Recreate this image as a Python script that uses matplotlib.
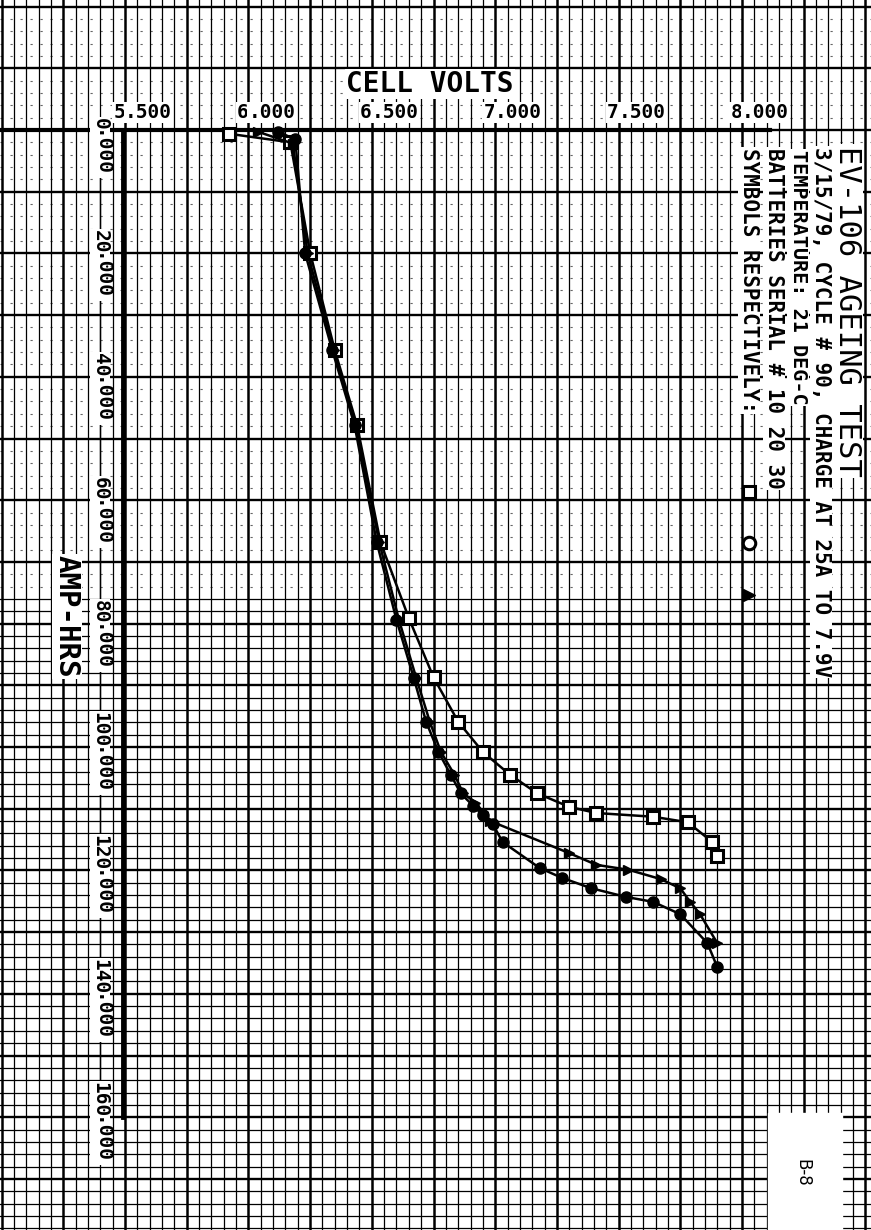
import matplotlib
matplotlib.use("Agg")
import matplotlib.pyplot as plt
import numpy as np

# ---------------- data ----------------
volt_ticks = [5.5, 6.0, 6.5, 7.0, 7.5, 8.0]
ah_ticks = [0, 20, 40, 60, 80, 100, 120, 140, 160]

sq_ah = [0.6, 2.0, 19.9, 35.7, 47.8, 66.8, 79.1, 88.7, 95.9, 100.8, 104.5, 107.5,
         109.7, 110.7, 111.3, 112.2, 115.4, 117.7]
sq_v = [5.92, 6.17, 6.25, 6.35, 6.44, 6.535, 6.65, 6.75, 6.85, 6.95, 7.06, 7.17,
        7.30, 7.41, 7.64, 7.78, 7.88, 7.90]

ci_ah = [0.3, 1.5, 20.0, 35.7, 47.8, 66.8, 79.4, 88.8, 95.9, 100.8, 104.5, 107.5,
         109.5, 111.0, 112.5, 115.4, 119.6, 121.2, 122.9, 124.3, 125.1, 127.1,
         131.8, 135.7]
ci_v = [6.12, 6.19, 6.23, 6.34, 6.43, 6.52, 6.60, 6.67, 6.72, 6.77, 6.82, 6.86,
        6.91, 6.95, 6.99, 7.03, 7.18, 7.27, 7.39, 7.53, 7.64, 7.75, 7.86, 7.90]

tr_ah = [0.3, 2.2, 20.0, 35.7, 47.8, 66.8, 79.4, 88.8, 95.9, 100.8, 104.5, 107.5,
         109.0, 110.5, 112.0, 117.2, 119.1, 119.9, 121.4, 122.9, 125.1, 127.1, 131.8]
tr_v = [6.04, 6.18, 6.24, 6.345, 6.435, 6.53, 6.61, 6.68, 6.735, 6.78, 6.835, 6.87,
        6.92, 6.95, 6.98, 7.30, 7.41, 7.54, 7.67, 7.75, 7.79, 7.83, 7.90]

title = "EV-106 AGEING TEST"
sub_lines = ["3/15/79, CYCLE # 90, CHARGE AT 25A TO 7.9V",
             "TEMPERATURE: 21 DEG-C",
             "BATTERIES SERIAL # 10 20 30",
             "SYMBOLS RESPECTIVELY:"]

# ---------------- figure ----------------
W, H = 871, 1230
fig = plt.figure(figsize=(W / 100, H / 100), dpi=100)
ax = fig.add_axes([0, 0, 1, 1])

X0, PXV = 125.0, 246.8     # pixel of 5.5 V, pixels per volt
Y0, PYA = 130.0, 6.17      # pixel of 0 Ah, pixels per Ah

def pxv(px):
    return 5.5 + (px - X0) / PXV

def pya(py):
    return (py - Y0) / PYA

ax.set_xlim(pxv(0), pxv(W))
ax.set_ylim(pya(H), pya(0))
ax.axis("off")

# graph paper
vmin, vmax = pxv(0), pxv(W)
amin, amax = pya(0), pya(H)
k0 = int(np.floor((vmin - 5.5) / 0.05))
k1 = int(np.ceil((vmax - 5.5) / 0.05))
for k in range(k0, k1 + 1):
    v = 5.5 + 0.05 * k
    lw = 1.8 if k % 5 == 0 else 0.9
    ax.axvline(v, color="black", lw=lw, zorder=1)
j0 = int(np.floor(amin / 2))
j1 = int(np.ceil(amax / 2))
for j in range(j0, j1 + 1):
    a = 2.0 * j
    if j % 5 == 0:
        ax.axhline(a, color="black", lw=1.7, zorder=1)
    elif a < 76:
        ax.axhline(a, color="black", lw=0.8, ls=(0, (2, 7)), zorder=1, alpha=0.6)
    else:
        ax.axhline(a, color="black", lw=0.9, zorder=1)

# axes lines
ax.plot([pxv(0), pxv(770)], [0, 0], color="black", lw=3, zorder=2)
ax.plot([5.5 - 0.008, 5.5 - 0.008], [0, 160], color="black", lw=3.5, zorder=2)
ax.plot([pxv(100), pxv(100)], [0, 160], color="black", lw=1.0, zorder=2)

font = ["DejaVu Sans Mono"]
wbox = dict(boxstyle="square,pad=0.05", fc="white", ec="none")

# x tick labels
for v in volt_ticks:
    ip, dp = f"{v:.3f}".split(".")
    ax.text(v, pya(118), ip, ha="right", va="baseline", fontsize=14,
            family=font, weight="bold", zorder=5, bbox=wbox)
    ax.text(v, pya(118), "." + dp, ha="left", va="baseline", fontsize=14,
            family=font, weight="bold", zorder=5, bbox=wbox)

# y tick labels (rotated, reading downward)
for a in ah_ticks:
    ip, dp = f"{a:.3f}".split(".")
    kw = dict(rotation=-90, rotation_mode="anchor", va="center", fontsize=14,
              family=font, weight="bold", zorder=5, bbox=wbox)
    ax.text(pxv(100), a, ip, ha="right", **kw)
    ax.text(pxv(100), a, "." + dp, ha="left", **kw)

ax.text(pxv(430), pya(92), "CELL VOLTS", ha="center", va="baseline", fontsize=20,
        family=font, weight="bold", zorder=5, bbox=wbox)
ax.text(pxv(67), pya(555), "AMP-HRS", rotation=-90, rotation_mode="anchor",
        ha="left", va="center", fontsize=21, family=font, weight="bold", zorder=5,
        bbox=wbox)

# title block (rotated)
tkw = dict(rotation=-90, rotation_mode="anchor", ha="left", va="center", zorder=5,
           family=font, bbox=wbox)
ax.text(pxv(847), pya(146), title, fontsize=22, **tkw)
ax.text(pxv(821), pya(147), sub_lines[0], fontsize=15, weight="bold", **tkw)
ax.text(pxv(798), pya(150), sub_lines[1], fontsize=14.5, weight="bold", **tkw)
ax.text(pxv(774), pya(148), sub_lines[2], fontsize=15, weight="bold", **tkw)
ax.text(pxv(749), pya(148), sub_lines[3], fontsize=15, weight="bold", **tkw)
ax.plot([pxv(749)], [pya(492)], marker="s", ms=9, mfc="white", mec="black", mew=2.2, zorder=6)
ax.plot([pxv(749)], [pya(543)], marker="o", ms=9, mfc="white", mec="black", mew=2.2, zorder=6)
ax.plot([pxv(749)], [pya(595)], marker=">", ms=9, mfc="black", mec="black", zorder=6)

# B-8 box
ax.fill_between([pxv(768), pxv(842)], pya(1113), pya(1232), color="white", zorder=4)
ax.text(pxv(802), pya(1173), "B-8", rotation=-90, rotation_mode="anchor", ha="center",
        va="center", fontsize=12, family=["DejaVu Sans"], zorder=6)

# data
ax.plot(sq_v, sq_ah, color="black", lw=1.8, marker="s", ms=8, mfc="white",
        mec="black", mew=2.2, zorder=7)
ax.plot(ci_v, ci_ah, color="black", lw=1.8, marker="o", ms=8, mfc="black",
        mec="black", zorder=7)
ax.plot(tr_v, tr_ah, color="black", lw=1.8, marker=">", ms=7, mfc="black",
        mec="black", zorder=7)

fig.savefig("out.png", dpi=100)
